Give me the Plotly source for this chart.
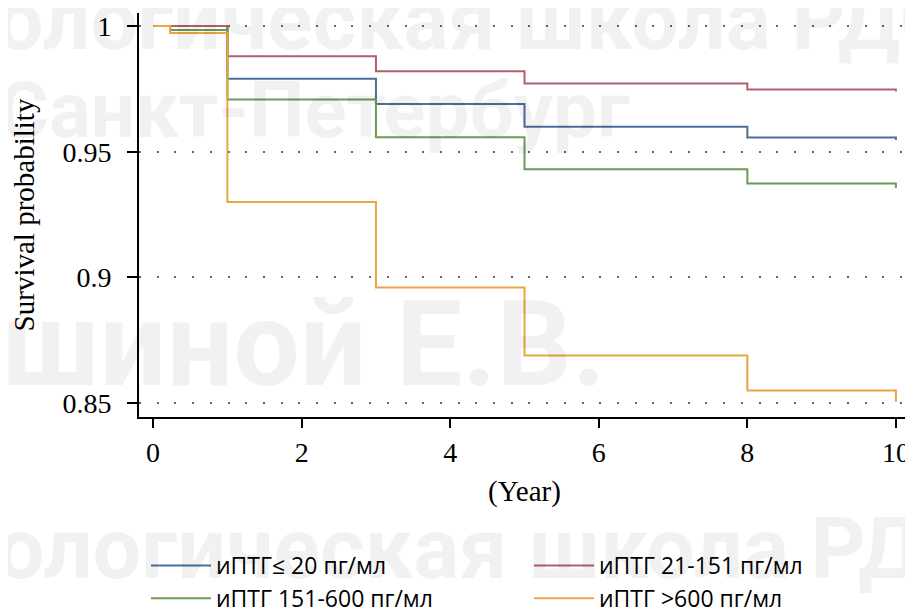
import plotly.graph_objects as go

# ---- data ----
years = [0, 0.23, 1, 3, 5, 8, 10]
surv_le20 = [1.0, 1.0, 0.979, 0.969, 0.960, 0.9557, 0.9547]
surv_21_151 = [1.0, 1.0, 0.988, 0.982, 0.9772, 0.9748, 0.974]
surv_151_600 = [1.0, 0.9984, 0.9708, 0.9558, 0.943, 0.9374, 0.9356]
surv_gt600 = [1.0, 0.9972, 0.930, 0.896, 0.869, 0.855, 0.8506]

names = ["иПТГ≤ 20 пг/мл", "иПТГ 21-151 пг/мл", "иПТГ 151-600 пг/мл", "иПТГ >600 пг/мл"]
colors = ["#4a6f9c", "#b0606b", "#6f9a55", "#eaa440"]
series = [surv_le20, surv_21_151, surv_151_600, surv_gt600]
legend_ids = ["legend", "legend2", "legend", "legend2"]

x_ticks = [0, 2, 4, 6, 8, 10]
y_ticks = [0.85, 0.9, 0.95, 1]
y_tick_text = ["0.85", "0.9", "0.95", "1"]

# page has an 8px body margin; figure sized to fit the 913x607 window
OFF = 8
W, H = 913 - OFF, 607 - OFF
ML, MR, MT, MB = 131, 3, 5, 190
PW, PH = W - ML - MR, H - MT - MB

def px(wx):  # window x pixel -> paper x
    return (wx - OFF - ML) / PW

def py(wy):  # window y pixel -> paper y
    return (H - MB - (wy - OFF)) / PH

fig = go.Figure()
for i, (nm, col, ys, lg) in enumerate(zip(names, colors, series, legend_ids)):
    fig.add_trace(go.Scatter(
        x=years, y=ys, mode="lines", name=nm,
        line=dict(color=col, width=2, shape="hv"),
        legend=lg, legendgroup=str(i),
    ))

serif = "Liberation Serif"
fig.update_layout(
    width=W, height=H,
    margin=dict(l=ML, r=MR, t=MT, b=MB, autoexpand=False),
    paper_bgcolor="white", plot_bgcolor="white",
    showlegend=True,
    font=dict(family=serif, color="black"),
    xaxis=dict(
        range=[-0.19, 10.19], tickvals=x_ticks, ticks="outside", ticklen=9,
        tickwidth=1.5, tickcolor="black", showline=True, linecolor="black",
        linewidth=2, showgrid=False, zeroline=False, automargin=False,
        ticklabelstandoff=0,
        tickfont=dict(family=serif, size=28, color="black"),
        title=dict(text="(Year)", font=dict(family=serif, size=29), standoff=14),
    ),
    yaxis=dict(
        range=[0.8445, 1.0052], tickvals=y_ticks, ticktext=y_tick_text,
        ticks="outside", ticklen=10, tickwidth=1.5, tickcolor="black",
        showline=True, linecolor="black", linewidth=2,
        showgrid=True, gridcolor="#666666", gridwidth=1.5, griddash="2px,15.7px",
        zeroline=False, automargin=False, ticklabelstandoff=10,
        tickfont=dict(family=serif, size=28, color="black"),
        title=dict(text="Survival probability", font=dict(family=serif, size=29), standoff=20),
    ),
    legend=dict(
        x=px(146), y=py(544), xanchor="left", yanchor="top", orientation="v",
        font=dict(family="Open Sans", size=23, color="black"),
        bgcolor="rgba(0,0,0,0)", tracegroupgap=0, itemwidth=60,
    ),
    legend2=dict(
        x=px(529), y=py(544), xanchor="left", yanchor="top", orientation="v",
        font=dict(family="Open Sans", size=23, color="black"),
        bgcolor="rgba(0,0,0,0)", tracegroupgap=0, itemwidth=60,
    ),
)

# faint watermark text present in the reference image
wm_font = "Roboto"
wm_color = "rgba(0,0,0,0.055)"
watermarks = [
    ("ологическая школа РДО", -6, 20, 84),
    ("Санкт-Петербург", -4, 110, 78),
    ("шиной Е.В.", 0, 345, 118),
    ("ологическая школа РДО", -6, 548, 86),
]
for txt, x0, yc, fs in watermarks:
    fig.add_annotation(
        text=f"<b>{txt}</b>", xref="paper", yref="paper",
        x=px(x0), y=py(yc), xanchor="left", yanchor="middle",
        showarrow=False, font=dict(family=wm_font, size=fs, color=wm_color),
    )

fig.write_html("out.html")
